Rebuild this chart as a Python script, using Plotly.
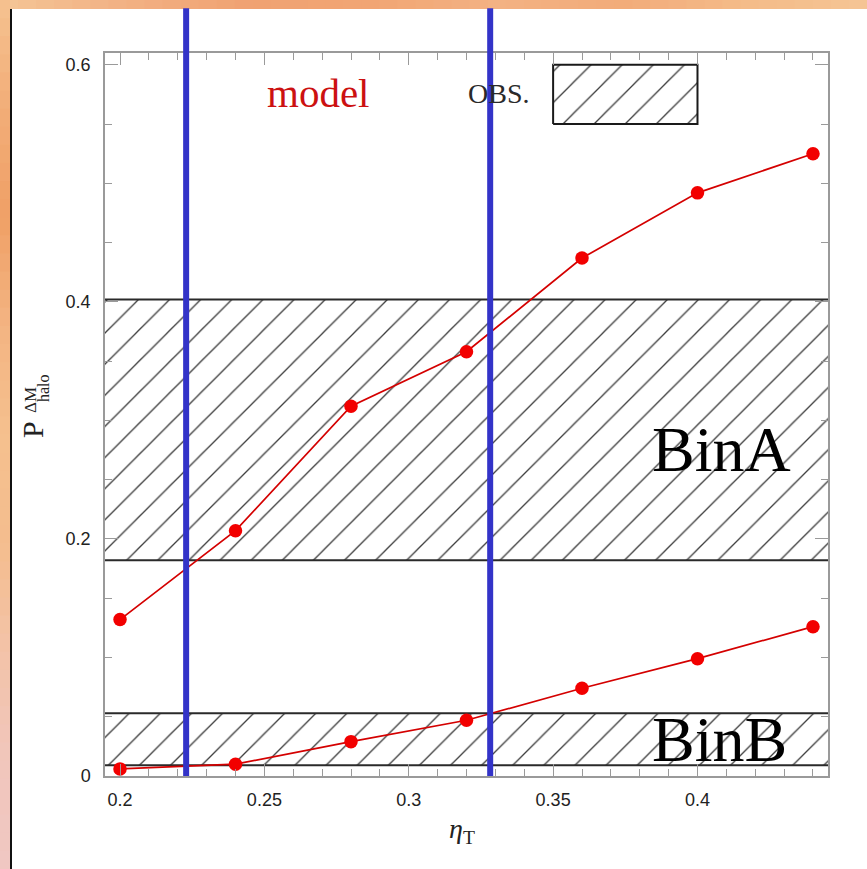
import plotly.graph_objects as go

# Model probability versus eta_T for the two halo mass bins
eta_t = [0.20, 0.24, 0.28, 0.32, 0.36, 0.40, 0.44]
p_bin_a = [0.132, 0.207, 0.312, 0.358, 0.437, 0.492, 0.525]
p_bin_b = [0.006, 0.010, 0.029, 0.047, 0.074, 0.099, 0.126]

# Observed ranges (hatched bands)
obs_bin_a = [0.182, 0.402]
obs_bin_b = [0.009, 0.053]

# Allowed eta_T interval (vertical markers)
eta_limits = [0.2229, 0.3282]

# Hatched key box
key_box_x = [0.35, 0.40]
key_box_y = [0.55, 0.60]

x_tick_vals = [0.2, 0.25, 0.3, 0.35, 0.4]
x_tick_text = ["0.2", "0.25", "0.3", "0.35", "0.4"]
y_tick_vals = [0.0, 0.2, 0.4, 0.6]
y_tick_text = ["0", "0.2", "0.4", "0.6"]

X_RANGE = [0.1948, 0.4452]
Y_RANGE = [0.0, 0.610]

HATCH = dict(shape="/", size=22, solidity=0.06, fgcolor="#3c3c3c",
             bgcolor="white", fillmode="replace")
FRAME = "#9a9a9a"
RED_LINE = "#d40000"
RED_DOT = "#f20000"

fig = go.Figure()


def band(lo, hi):
    fig.add_trace(go.Scatter(
        x=[X_RANGE[0], X_RANGE[1], X_RANGE[1], X_RANGE[0], X_RANGE[0]],
        y=[lo, lo, hi, hi, lo],
        mode="lines", fill="toself", fillpattern=HATCH,
        line=dict(width=0), hoverinfo="skip", showlegend=False))
    for v in (lo, hi):
        fig.add_trace(go.Scatter(
            x=X_RANGE, y=[v, v], mode="lines",
            line=dict(color="#2a2a2a", width=2),
            hoverinfo="skip", showlegend=False))


band(*obs_bin_a)
band(*obs_bin_b)

# Key box for the observed ranges
fig.add_trace(go.Scatter(
    x=[key_box_x[0], key_box_x[1], key_box_x[1], key_box_x[0], key_box_x[0]],
    y=[key_box_y[0], key_box_y[0], key_box_y[1], key_box_y[1], key_box_y[0]],
    mode="lines", fill="toself", fillpattern=HATCH,
    line=dict(color="#1a1a1a", width=2), hoverinfo="skip", showlegend=False))

for series, name in ((p_bin_a, "BinA"), (p_bin_b, "BinB")):
    fig.add_trace(go.Scatter(
        x=eta_t, y=series, mode="lines+markers", name=name,
        line=dict(color=RED_LINE, width=1.7),
        marker=dict(color=RED_DOT, size=13.5),
        showlegend=False))

# Empty trace so the mirrored top/right axes are drawn
fig.add_trace(go.Scatter(x=[], y=[], xaxis="x2", yaxis="y2",
                         showlegend=False, hoverinfo="skip"))

tick_font = dict(family="Liberation Sans", size=18, color="#222222")

common = dict(showgrid=False, zeroline=False, showline=True,
              linecolor=FRAME, linewidth=1.5, ticks="inside",
              tickcolor=FRAME, tickwidth=1, fixedrange=True)

fig.update_layout(
    width=867, height=869,
    margin=dict(l=105, r=39, t=53, b=93),
    paper_bgcolor="white", plot_bgcolor="white",
    xaxis=dict(range=X_RANGE, tickmode="array", tickvals=x_tick_vals,
               ticktext=x_tick_text, ticklen=12, tickfont=tick_font,
               ticklabelstandoff=7,
               minor=dict(tickmode="linear", tick0=0.2, dtick=0.01,
                          ticks="inside", ticklen=7, tickcolor=FRAME,
                          tickwidth=1),
               **common),
    yaxis=dict(range=Y_RANGE, tickmode="array", tickvals=y_tick_vals,
               ticktext=y_tick_text, ticklen=13, tickfont=tick_font,
               ticklabelstandoff=9,
               minor=dict(tickmode="linear", tick0=0, dtick=0.05,
                          ticks="inside", ticklen=7, tickcolor=FRAME,
                          tickwidth=1),
               **common),
    xaxis2=dict(range=X_RANGE, overlaying="x", side="top", anchor="y2",
                tickmode="array", tickvals=x_tick_vals, ticklen=12,
                showticklabels=False,
                minor=dict(tickmode="linear", tick0=0.2, dtick=0.01,
                           ticks="inside", ticklen=7, tickcolor=FRAME,
                           tickwidth=1),
                **common),
    yaxis2=dict(range=Y_RANGE, overlaying="y", side="right", anchor="x2",
                tickmode="array", tickvals=y_tick_vals, ticklen=13,
                showticklabels=False,
                minor=dict(tickmode="linear", tick0=0, dtick=0.05,
                           ticks="inside", ticklen=7, tickcolor=FRAME,
                           tickwidth=1),
                **common),
)

# Vertical markers of the allowed eta_T interval
for xv in eta_limits:
    fig.add_shape(type="line", xref="x", yref="paper", x0=xv, x1=xv,
                  y0=0, y1=1.062, line=dict(color="#3333c8", width=6),
                  layer="above")


# Warm border strips along the top and left edges of the page
def hex_to_rgb(h):
    return tuple(int(h[i:i + 2], 16) for i in (1, 3, 5))


def blend(stops, t):
    pos = t * (len(stops) - 1)
    i = min(int(pos), len(stops) - 2)
    f = pos - i
    a, b = hex_to_rgb(stops[i]), hex_to_rgb(stops[i + 1])
    return "rgb(%d,%d,%d)" % tuple(round(a[k] + (b[k] - a[k]) * f)
                                   for k in range(3))


PX = 1 / 723  # one pixel in paper units
top_stops = ["#f4c596", "#f2b184", "#f0a272", "#f1a574", "#f3b283",
             "#f2ab7a", "#f4bb88", "#f5c595"]
left_stops = ["#f5c290", "#f2ad78", "#f0a066", "#f3b482", "#f5c08e",
              "#f4bd8e", "#f3c3a8", "#f1c6bc", "#f0c7c2"]
segs = 48
for i in range(segs):
    fig.add_shape(type="rect", xref="paper", yref="paper",
                  x0=(-105 + i * 867 / segs) * PX,
                  x1=(-105 + (i + 1) * 867 / segs + 1) * PX,
                  y0=(776 - 9) * PX, y1=(776 + 1) * PX,
                  fillcolor=blend(top_stops, (i + 0.5) / segs),
                  line=dict(width=0), layer="below")
    fig.add_shape(type="rect", xref="paper", yref="paper",
                  x0=-106 * PX, x1=-95 * PX,
                  y0=(776 - (i + 1) * 869 / segs - 1) * PX,
                  y1=(776 - i * 869 / segs) * PX,
                  fillcolor=blend(left_stops, (i + 0.5) / segs),
                  line=dict(width=0), layer="below")
fig.add_shape(type="line", xref="paper", yref="paper",
              x0=-94 * PX, x1=-94 * PX, y0=(776 - 870) * PX,
              y1=(776 - 9) * PX, line=dict(color="#111111", width=2))

serif = "Liberation Serif"
annotations = [
    dict(x=0.2686, y=0.576, xref="x", yref="y", text="model",
         font=dict(family=serif, size=41, color="#cc1111")),
    dict(x=0.3312, y=0.576, xref="x", yref="y", text="OBS.",
         font=dict(family=serif, size=28, color="#2a2a2a")),
    dict(x=0.4082, y=0.2755, xref="x", yref="y", text="BinA",
         font=dict(family=serif, size=64, color="black")),
    dict(x=0.4077, y=0.031, xref="x", yref="y", text="BinB",
         font=dict(family=serif, size=64, color="black")),
    dict(x=(462 - 105) * PX, y=(776 - 830) * PX, xref="paper",
         yref="paper", text="<i>η</i><sub>T</sub>",
         font=dict(family=serif, size=28, color="#222222")),
    dict(x=(33 - 105) * PX, y=(776 - 430) * PX, xref="paper",
         yref="paper", text="P", textangle=-90,
         font=dict(family=serif, size=30, color="#222222")),
    dict(x=(31 - 105) * PX, y=(776 - 400) * PX, xref="paper",
         yref="paper", text="ΔM", textangle=-90,
         font=dict(family=serif, size=17, color="#222222")),
    dict(x=(43 - 105) * PX, y=(776 - 388) * PX, xref="paper",
         yref="paper", text="halo", textangle=-90,
         font=dict(family=serif, size=16, color="#222222")),
]
for a in annotations:
    a.update(showarrow=False, xanchor="center", yanchor="middle")
fig.update_layout(annotations=annotations)

fig.write_html("out.html")
